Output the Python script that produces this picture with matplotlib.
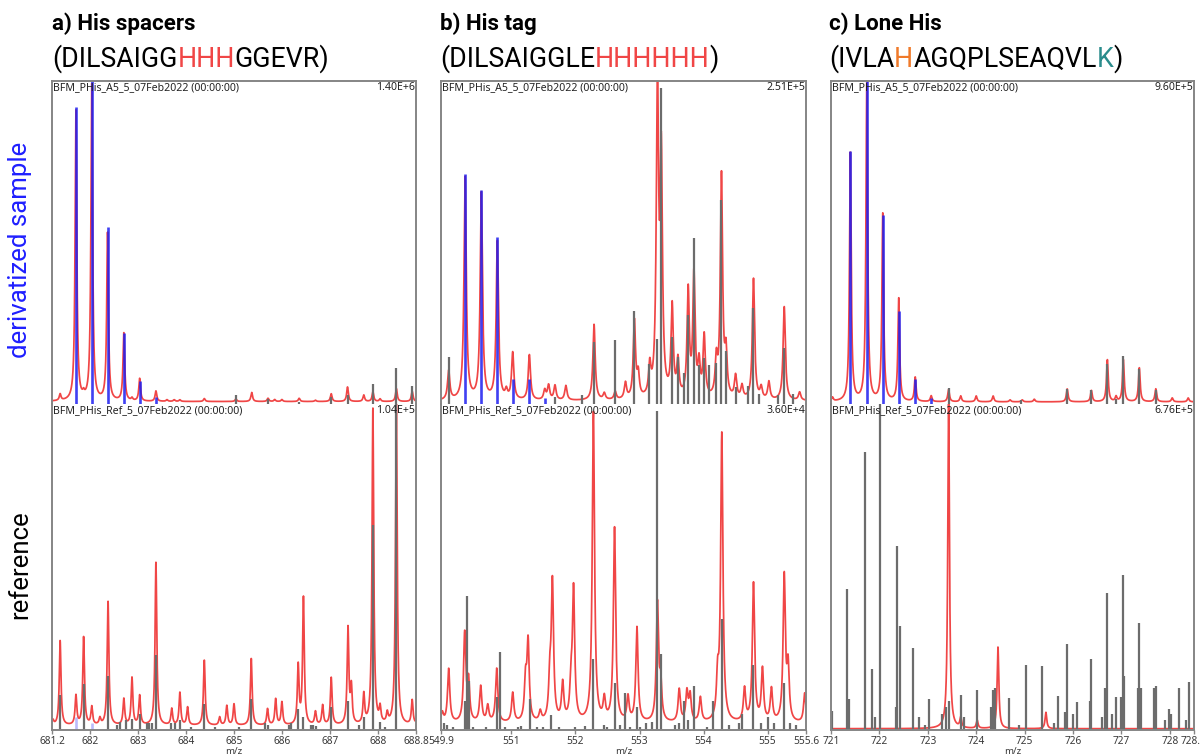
import numpy as np
import matplotlib
matplotlib.use("Agg")
import matplotlib.pyplot as plt

# ---------------- data (relative intensity, % of full scale) ----------------
# panel a: His spacers
a_range = (681.2, 688.8)
a_ticks = [681.2, 682, 683, 684, 685, 686, 687, 688, 688.8]
a_top_scale = "1.40E+6"
a_bot_scale = "1.04E+5"
a_top_theo_mz = [681.70, 682.03, 682.36, 682.70, 683.03, 683.37]
a_top_theo_int = [92.0, 100.0, 54.6, 22.0, 7.1, 2.0]
a_top_prof_mz = [681.37, 681.70, 681.86, 682.03, 682.36, 682.70, 682.87, 683.03,
                 683.37, 683.60, 683.75, 683.87, 684.38, 685.04, 685.37, 685.71,
                 685.85, 686.00, 686.36, 686.70, 687.03, 687.37, 687.71, 687.90,
                 688.05, 688.39, 688.72]
a_top_prof_int = [2.0, 90.0, 1.2, 98.0, 52.0, 21.0, 0.8, 7.0,
                  3.2, 0.5, 0.5, 0.5, 0.9, 0.8, 2.8, 1.0,
                  0.6, 0.6, 1.0, 0.4, 2.4, 4.5, 2.0, 3.0,
                  0.8, 4.0, 3.2]
a_top_cent_mz = [685.04, 685.71, 686.36, 687.03, 687.37, 687.90, 688.39, 688.72]
a_top_cent_int = [2.5, 1.3, 0.6, 2.0, 2.5, 6.2, 10.9, 5.4]
a_bot_prof_mz = [681.22, 681.37, 681.70, 681.86, 682.03, 682.20, 682.37, 682.70,
                 682.87, 683.03, 683.37, 683.70, 683.87, 684.03, 684.38, 684.70,
                 684.85, 685.00, 685.36, 685.70, 685.87, 686.00, 686.34, 686.45,
                 686.70, 686.85, 687.03, 687.38, 687.45, 687.71, 687.90, 688.05,
                 688.20, 688.39, 688.72, 688.85]
a_bot_prof_int = [1.5, 26.0, 9.0, 27.0, 5.5, 2.0, 38.0, 8.0,
                  14.5, 9.0, 50.0, 5.0, 10.0, 5.5, 20.0, 2.5,
                  6.0, 6.5, 20.5, 5.0, 8.0, 7.0, 18.0, 39.0,
                  4.0, 6.0, 14.5, 29.5, 11.0, 9.0, 97.0, 4.5,
                  3.0, 99.0, 7.5, 4.0]
a_bot_cent_mz = [681.37, 681.86, 682.37, 682.55, 682.62, 682.75, 682.87, 683.03,
                 683.18, 683.23, 683.28, 683.37, 683.68, 683.76, 683.87, 684.10,
                 684.38, 684.60, 685.10, 685.36, 685.65, 685.72, 686.15, 686.20,
                 686.34, 686.45, 686.60, 686.65, 686.72, 687.03, 687.38, 687.60,
                 687.71, 687.90, 688.05, 688.15, 688.39]
a_bot_cent_int = [10.8, 14.0, 16.6, 1.5, 2.5, 3.0, 3.5, 5.0,
                  2.0, 2.0, 2.0, 23.0, 2.0, 2.0, 3.0, 1.0,
                  8.0, 1.0, 1.0, 9.5, 2.0, 1.5, 1.5, 2.0,
                  6.5, 4.0, 1.5, 1.5, 1.2, 7.0, 9.0, 1.5,
                  4.0, 62.8, 2.5, 1.0, 100.0]
a_bot_theo_mz = [681.70, 682.03]
a_bot_theo_int = [4.0, 2.0]

# panel b: His tag
b_range = (549.9, 555.6)
b_ticks = [549.9, 551, 552, 553, 554, 555, 555.6]
b_top_scale = "2.51E+5"
b_bot_scale = "3.60E+4"
b_top_theo_mz = [550.277, 550.53, 550.78, 551.02, 551.28, 551.52]
b_top_theo_int = [71.2, 66.1, 51.7, 7.5, 7.5, 1.6]
b_top_prof_mz = [550.02, 550.277, 550.53, 550.78, 550.92, 551.02, 551.28, 551.52,
                 551.58, 551.68, 551.85, 552.29, 552.45, 552.62, 552.78, 552.92,
                 552.98, 553.16, 553.28, 553.34, 553.51, 553.60, 553.76, 553.85,
                 553.93, 554.01, 554.20, 554.28, 554.35, 554.50, 554.60, 554.78,
                 554.90, 555.02, 555.26, 555.50]
b_top_prof_int = [9.0, 69.0, 64.0, 49.0, 2.5, 14.5, 14.0, 3.0,
                  4.5, 4.5, 4.5, 23.5, 2.0, 2.5, 5.0, 24.0,
                  7.0, 9.0, 97.0, 72.0, 28.0, 11.0, 33.0, 38.0,
                  10.0, 19.0, 11.0, 69.0, 13.0, 7.0, 4.0, 37.5,
                  3.5, 5.5, 29.0, 2.5]
b_top_cent_mz = [550.02, 551.68, 552.10, 552.29, 552.62, 552.92, 553.15, 553.28,
                 553.34, 553.51, 553.60, 553.70, 553.76, 553.85, 553.93, 554.01,
                 554.08, 554.20, 554.28, 554.35, 554.50, 554.70, 554.78, 554.87,
                 555.17, 555.26, 555.40]
b_top_cent_int = [14.5, 2.0, 2.5, 19.0, 19.7, 28.7, 12.4, 20.0,
                  97.7, 20.7, 14.5, 9.5, 27.5, 51.3, 12.0, 14.0,
                  12.0, 12.5, 63.2, 16.3, 5.0, 5.5, 29.5, 3.0,
                  2.5, 17.3, 3.0]
b_bot_prof_mz = [549.92, 550.02, 550.27, 550.33, 550.52, 550.63, 550.77, 551.02,
                 551.22, 551.26, 551.45, 551.60, 551.64, 551.80, 551.93, 551.97,
                 552.28, 552.45, 552.61, 552.82, 552.96, 553.28, 553.33, 553.62,
                 553.74, 553.79, 553.95, 554.22, 554.285, 554.64, 554.78, 554.92,
                 555.06, 555.26, 555.32, 555.58]
b_bot_prof_int = [3.0, 16.5, 27.0, 12.0, 11.0, 5.0, 16.5, 9.0,
                  12.0, 24.0, 3.0, 12.0, 42.0, 11.5, 10.0, 40.0,
                  95.0, 6.5, 59.5, 7.5, 29.0, 36.0, 11.0, 10.0,
                  9.0, 8.0, 7.5, 12.0, 88.0, 10.0, 42.5, 16.0,
                  10.0, 44.5, 16.0, 9.0]
b_bot_cent_mz = [549.95, 550.00, 550.08, 550.27, 550.31, 550.33, 550.40, 550.60,
                 550.78, 550.815, 550.90, 551.10, 551.15, 551.29, 551.40, 551.50,
                 551.62, 551.75, 552.00, 552.15, 552.28, 552.45, 552.50, 552.61,
                 552.70, 552.77, 552.85, 552.96, 553.00, 553.10, 553.20, 553.28,
                 553.34, 553.55, 553.62, 553.70, 553.75, 553.85, 554.05, 554.15,
                 554.285, 554.40, 554.55, 554.60, 554.77, 554.90, 555.00, 555.10,
                 555.26, 555.35, 555.45]
b_bot_cent_int = [2.0, 1.5, 1.0, 9.0, 41.1, 15.0, 1.0, 1.0,
                  10.0, 24.0, 1.0, 1.0, 1.2, 9.5, 1.0, 1.0,
                  4.5, 1.0, 1.0, 1.2, 21.9, 1.5, 1.0, 14.5,
                  1.5, 11.3, 1.0, 7.0, 1.0, 2.0, 2.5, 97.7,
                  23.4, 1.5, 2.0, 9.0, 3.0, 13.4, 1.0, 9.0,
                  33.9, 1.5, 2.0, 5.0, 20.0, 2.0, 4.0, 2.0,
                  14.5, 2.0, 1.5]

# panel c: Lone His
c_range = (721.0, 728.5)
c_ticks = [721, 722, 723, 724, 725, 726, 727, 728, 728.5]
c_top_scale = "9.60E+5"
c_bot_scale = "6.76E+5"
c_top_theo_mz = [721.40, 721.74, 722.07, 722.40, 722.74, 723.07]
c_top_theo_int = [78.2, 100.0, 58.5, 28.7, 7.6, 1.8]
c_top_prof_mz = [721.03, 721.40, 721.74, 722.07, 722.40, 722.74, 723.07, 723.43,
                 723.68, 724.00, 724.35, 724.70, 724.95, 725.20, 725.88, 726.38,
                 726.71, 726.89, 727.04, 727.37, 727.71, 728.05, 728.38]
c_top_prof_int = [1.2, 77.0, 99.0, 58.0, 31.9, 7.5, 1.8, 3.8,
                  1.8, 1.8, 1.8, 0.6, 0.6, 0.8, 4.0, 3.5,
                  13.0, 1.5, 13.0, 10.5, 4.0, 1.2, 1.2]
c_top_cent_mz = [723.43, 724.92, 725.88, 726.38, 726.71, 726.89, 727.04, 727.37,
                 727.71]
c_top_cent_int = [4.7, 1.0, 4.4, 4.1, 12.4, 1.5, 14.7, 10.7,
                  4.1]
c_bot_prof_mz = [723.43, 723.68, 724.02, 724.45, 725.44]
c_bot_prof_int = [100.0, 3.0, 2.5, 25.0, 5.0]
c_bot_cent_mz = [721.02, 721.34, 721.38, 721.70, 721.84, 721.90, 722.02, 722.34,
                 722.36, 722.42, 722.69, 722.82, 722.95, 723.03, 723.30, 723.38,
                 723.43, 723.68, 723.75, 724.02, 724.30, 724.35, 724.38, 724.68,
                 724.88, 725.02, 725.35, 725.60, 725.68, 725.83, 725.88, 726.00,
                 726.09, 726.35, 726.38, 726.60, 726.67, 726.71, 726.80, 726.89,
                 727.00, 727.04, 727.06, 727.35, 727.37, 727.40, 727.68, 727.71,
                 727.90, 727.99, 728.03, 728.18, 728.33, 728.39]
c_bot_cent_int = [5.7, 43.2, 9.4, 85.4, 18.8, 4.0, 100.0, 7.0,
                  56.5, 32.0, 25.2, 4.0, 1.5, 9.6, 5.0, 7.0,
                  9.0, 10.6, 4.0, 12.3, 7.0, 12.3, 13.0, 9.9,
                  1.5, 19.8, 19.5, 2.0, 10.3, 5.5, 26.3, 5.0,
                  8.7, 9.0, 21.7, 4.0, 13.0, 42.1, 5.0, 10.0,
                  10.0, 47.6, 16.7, 13.0, 32.7, 13.0, 13.0, 13.4,
                  3.0, 6.5, 5.0, 13.0, 3.0, 14.7]

# ---------------- style ----------------
RED = "#f04646"
GRAY = "#6c6c6c"
BLUE = "#1e1ef0"
FRAME = "#858585"
HWHM = 0.021
W, H = 1200, 756

fig = plt.figure(figsize=(W / 100, H / 100), dpi=100)
overlay = fig.add_axes([0, 0, 1, 1])
overlay.set_xlim(0, W)
overlay.set_ylim(H, 0)
overlay.axis("off")


def lorentz_profile(x, mz, inten, base):
    y = np.full_like(x, base)
    for m, h in zip(mz, inten):
        y += h / (1.0 + ((x - m) / HWHM) ** 2)
    return y


def px_axes(left, top, right, bottom):
    return fig.add_axes([left / W, 1 - bottom / H, (right - left) / W, (bottom - top) / H])


def setup(ax, xr, which):
    ax.set_xlim(*xr)
    ax.set_ylim(0, 100)
    ax.set_yticks([])
    ax.set_facecolor("none")
    for s in ax.spines.values():
        s.set_color(FRAME)
        s.set_linewidth(1.4)
    if which == "top":
        ax.spines["bottom"].set_visible(False)
        ax.set_xticks([])
    else:
        ax.spines["top"].set_visible(False)


def spectrum(ax, xr, prof_mz, prof_int, base, cent_mz, cent_int, theo_mz=None,
             theo_int=None, theo_alpha=0.85):
    x = np.linspace(xr[0], xr[1], 6000)
    ax.plot(x, lorentz_profile(x, prof_mz, prof_int, base), color=RED, lw=1.25)
    ax.vlines(cent_mz, 0, cent_int, color=GRAY, lw=1.6)
    if theo_mz is not None:
        ax.vlines(theo_mz, 0, theo_int, color=BLUE, lw=1.9, alpha=theo_alpha)


columns = [
    dict(l=52, r=416, xr=a_range, ticks=a_ticks, ts=a_top_scale, bs=a_bot_scale,
         top=(a_top_prof_mz, a_top_prof_int, 0.6, a_top_cent_mz, a_top_cent_int,
              a_top_theo_mz, a_top_theo_int),
         bot=(a_bot_prof_mz, a_bot_prof_int, 1.3, a_bot_cent_mz, a_bot_cent_int,
              a_bot_theo_mz, a_bot_theo_int)),
    dict(l=441, r=806, xr=b_range, ticks=b_ticks, ts=b_top_scale, bs=b_bot_scale,
         top=(b_top_prof_mz, b_top_prof_int, 0.8, b_top_cent_mz, b_top_cent_int,
              b_top_theo_mz, b_top_theo_int),
         bot=(b_bot_prof_mz, b_bot_prof_int, 2.0, b_bot_cent_mz, b_bot_cent_int,
              None, None)),
    dict(l=831, r=1194, xr=c_range, ticks=c_ticks, ts=c_top_scale, bs=c_bot_scale,
         top=(c_top_prof_mz, c_top_prof_int, 0.5, c_top_cent_mz, c_top_cent_int,
              c_top_theo_mz, c_top_theo_int),
         bot=(c_bot_prof_mz, c_bot_prof_int, 0.4, c_bot_cent_mz, c_bot_cent_int,
              None, None)),
]

hdr_font = dict(family="Noto Sans", fontsize=7.6, color="#222222")
for col in columns:
    ax_t = px_axes(col["l"], 81, col["r"], 403.5)
    ax_b = px_axes(col["l"], 404, col["r"], 730)
    setup(ax_t, col["xr"], "top")
    setup(ax_b, col["xr"], "bottom")
    pm, pi, base, cm, ci, tm, ti = col["top"]
    spectrum(ax_t, col["xr"], pm, pi, base, cm, ci, tm, ti)
    pm, pi, base, cm, ci, tm, ti = col["bot"]
    spectrum(ax_b, col["xr"], pm, pi, base, cm, ci, tm, ti, theo_alpha=0.3)

    ax_t.text(0.003, 0.997, "BFM_PHis_A5_5_07Feb2022 (00:00:00)", transform=ax_t.transAxes,
              ha="left", va="top", **hdr_font)
    ax_t.text(0.997, 0.997, col["ts"], transform=ax_t.transAxes, ha="right", va="top", **hdr_font)
    ax_b.text(0.003, 0.997, "BFM_PHis_Ref_5_07Feb2022 (00:00:00)", transform=ax_b.transAxes,
              ha="left", va="top", **hdr_font)
    ax_b.text(0.997, 0.997, col["bs"], transform=ax_b.transAxes, ha="right", va="top", **hdr_font)

    ax_b.set_xticks(col["ticks"])
    ax_b.set_xticklabels([f"{t:g}" for t in col["ticks"]])
    ax_b.tick_params(axis="x", direction="out", length=3, width=1, color=FRAME,
                     labelsize=7.3, labelcolor="#3a3a3a", pad=1.5)
    for lbl in ax_b.get_xticklabels():
        lbl.set_family("Noto Sans")
    ax_b.set_xlabel("m/z", fontsize=7.0, color="#3a3a3a", family="Noto Sans", labelpad=0)

# ---------------- titles and row labels ----------------
TITLE_FONT = "Roboto"


def rainbow(x, y, parts, size):
    t = overlay.text(x, y, parts[0][0], color=parts[0][1], fontsize=size,
                     family=TITLE_FONT, ha="left", va="baseline")
    for txt, c in parts[1:]:
        t = overlay.annotate(txt, xy=(1, 0), xycoords=t, va="bottom", ha="left",
                             color=c, fontsize=size, family=TITLE_FONT)


titles = [
    (52, "a) His spacers", [("(DILSAIGG", "black"), ("HHH", RED), ("GGEVR)", "black")]),
    (440, "b) His tag", [("(DILSAIGGLE", "black"), ("HHHHHH", RED), (")", "black")]),
    (829, "c) Lone His", [("(IVLA", "black"), ("H", "#f07a2a"), ("AGQPLSEAQVL", "black"),
                          ("K", "#2a8c8c"), (")", "black")]),
]
for x0, head, seq in titles:
    overlay.text(x0, 30, head, fontsize=16, fontweight="bold", family=TITLE_FONT,
                 ha="left", va="baseline", color="black")
    rainbow(x0, 66.5, seq, 19.3)

overlay.text(20, 250, "derivatized sample", rotation=90, ha="center", va="center",
             fontsize=18.5, color="#1f1fff", family=TITLE_FONT)
overlay.text(20, 565, "reference", rotation=90, ha="center", va="center",
             fontsize=18.5, color="black", family=TITLE_FONT)

fig.savefig("out.png", dpi=100)
